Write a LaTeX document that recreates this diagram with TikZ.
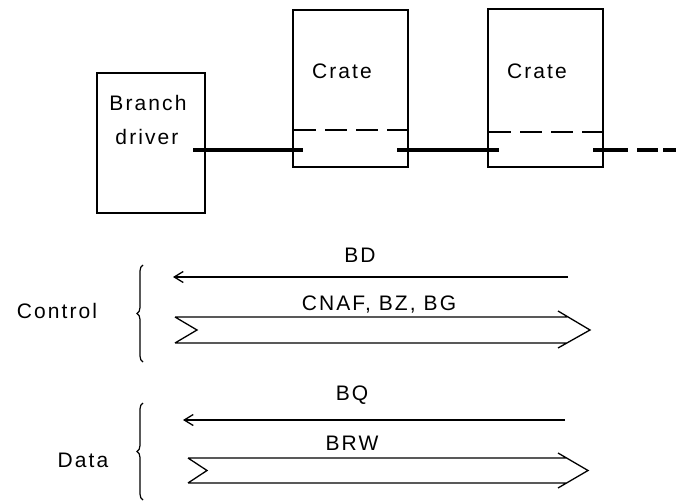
\documentclass[tikz,border=0pt]{standalone}
\usepackage{fontspec}
\setmainfont{Liberation Sans}[LetterSpace=10]
\usetikzlibrary{arrows.meta,decorations.pathreplacing}
\begin{document}
\begin{tikzpicture}[x=1pt,y=-1pt,
  lbl/.style={inner sep=0pt,font=\fontsize{21}{24}\selectfont},
  box/.style={draw,line width=1.3pt},
  sep/.style={line width=1.1pt,dash pattern=on 22pt off 9pt},
  bus/.style={line width=3.8pt},
  busdash/.style={line width=3.8pt,dash pattern=on 35pt off 9pt on 21pt off 5pt},
  thin/.style={line width=1.3pt},
  brc/.style={line width=1.2pt,decorate,decoration={brace,amplitude=6pt,aspect=0.5}},
  back/.style={thin,-{Straight Barb[length=9pt,width=11pt,line width=1.3pt]}}
]
\useasboundingbox (0,0) rectangle (676,502);
% boxes
\draw[box] (97,73) rectangle (205,213);
\draw[box] (293,10) rectangle (408,167);
\draw[box] (488,9) rectangle (603,167);
\draw[sep] (294,130) -- (407,130);
\draw[sep] (489,132) -- (602,132);
\node[lbl] (br) at (148,103) {Branch};
\node[lbl] (dr) at (147,137) {driver};
\node[lbl] (c1) at (342,71) {Crate};
\node[lbl] (c2) at (537,71) {Crate};
% bus
\coordinate (b1a) at (193,150); \coordinate (b1b) at (303,150);
\coordinate (b2a) at (397,150); \coordinate (b2b) at (499,150);
\coordinate (b3a) at (593,150); \coordinate (b3b) at (676,150);
\draw[bus] (b1a) -- (b1b);
\draw[bus] (b2a) -- (b2b);
\draw[busdash] (b3a) -- (b3b);
% control
\node[lbl] (ctl) at (57,311) {Control};
\draw[brc] (143,362) -- (143,265);
\node[lbl] (bd) at (360,255) {BD};
\coordinate (bdR) at (568,277); \coordinate (bdL) at (173,277);
\draw[back] (bdR) -- (bdL);
\node[lbl] (cnaf) at (379,305) {CNAF, BZ, BG};
\draw[thin] (175,317) -- (567,317) (175,343) -- (567,343)
  (175,317) -- (197,330) -- (175,343)
  (558,311) -- (590,330) -- (558,348);
% data
\node[lbl] (dat) at (83,460) {Data};
\draw[brc] (143,500) -- (143,403);
\node[lbl] (bq) at (352,395) {BQ};
\coordinate (bqR) at (565,420); \coordinate (bqL) at (183,420);
\draw[back] (bqR) -- (bqL);
\node[lbl] (brw) at (352,443) {BRW};
\draw[thin] (188,458) -- (567,458) (188,483) -- (567,483)
  (188,458) -- (207,470.5) -- (188,483)
  (558,453) -- (588,470.5) -- (558,488);
\end{tikzpicture}
\end{document}
